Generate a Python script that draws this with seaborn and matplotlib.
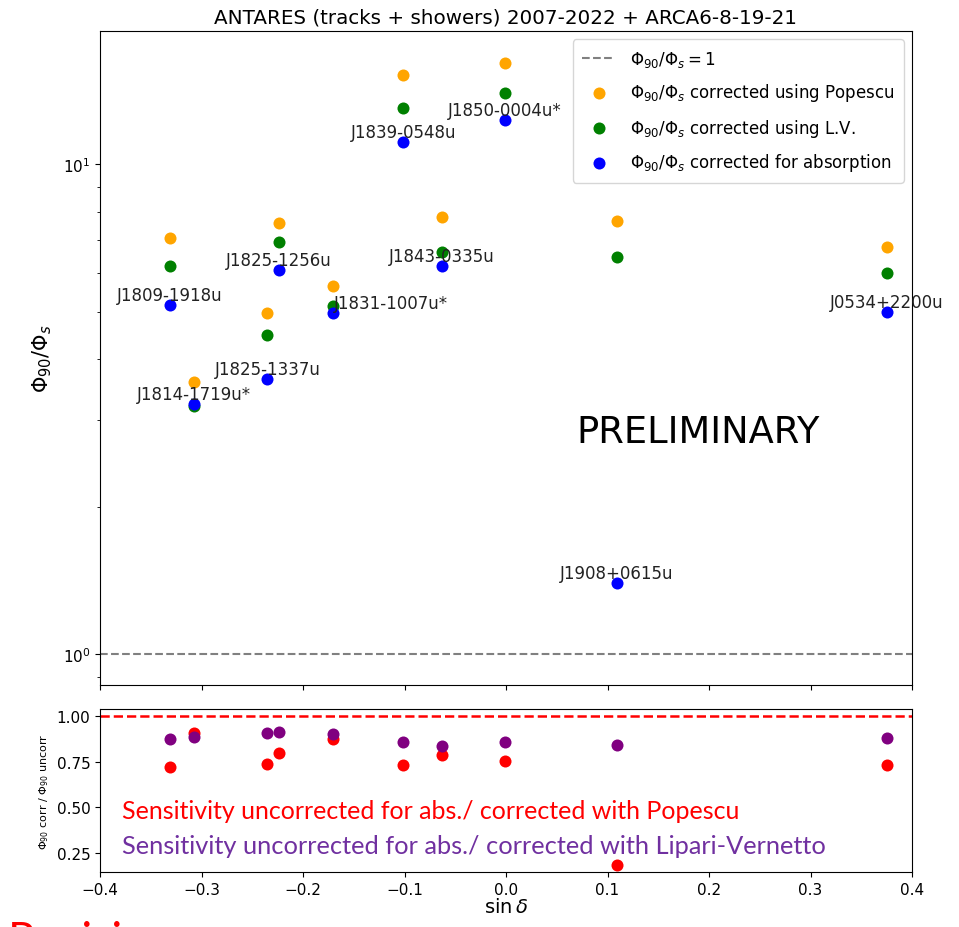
import matplotlib
matplotlib.use("Agg")
import matplotlib.pyplot as plt
import seaborn as sns
import numpy as np

# ---------------- data ----------------
sources = ["J1809-1918u", "J1814-1719u*", "J1825-1337u", "J1825-1256u", "J1831-1007u*",
           "J1839-0548u", "J1843-0335u", "J1850-0004u*", "J1908+0615u", "J0534+2200u"]
sin_dec = [-0.331, -0.307, -0.235, -0.224, -0.170, -0.101, -0.063, -0.001, 0.109, 0.375]

ratio_popescu = [7.06, 3.59, 4.97, 7.57, 5.64, 15.2, 7.82, 16.1, 7.64, 6.78]
ratio_lv = [6.20, 3.21, 4.48, 6.95, 5.14, 13.0, 6.63, 14.0, 6.45, 5.99]
ratio_absorption = [5.15, 3.24, 3.65, 6.07, 4.98, 11.1, 6.20, 12.3, 1.40, 4.99]

corr_popescu = [0.724, 0.907, 0.737, 0.798, 0.876, 0.734, 0.790, 0.757, 0.183, 0.734]
corr_lv = [0.876, 0.888, 0.907, 0.916, 0.901, 0.858, 0.839, 0.858, 0.843, 0.880]

label_align = ["center", "center", "center", "center", "left",
               "center", "center", "center", "center", "center"]

x_ticks = [-0.4, -0.3, -0.2, -0.1, 0.0, 0.1, 0.2, 0.3, 0.4]
bottom_yticks = [0.25, 0.50, 0.75, 1.00]

# ---------------- figure ----------------
W, H = 959, 928
fig = plt.figure(figsize=(W / 100, H / 100), dpi=100)
ax1 = fig.add_axes([100 / W, 1 - 686 / H, 812 / W, 654 / H])
ax2 = fig.add_axes([100 / W, 1 - 873 / H, 812 / W, 163 / H], sharex=ax1)

ms = 75
ax1.axhline(1.0, color="gray", ls="--", lw=1.5, label=r"$\Phi_{90}/\Phi_s = 1$")
sns.scatterplot(x=sin_dec, y=ratio_popescu, color="orange", s=ms, linewidth=0,
                label=r"$\Phi_{90}/\Phi_s$ corrected using Popescu", ax=ax1)
sns.scatterplot(x=sin_dec, y=ratio_lv, color="green", s=ms, linewidth=0,
                label=r"$\Phi_{90}/\Phi_s$ corrected using L.V.", ax=ax1)
sns.scatterplot(x=sin_dec, y=ratio_absorption, color="blue", s=ms, linewidth=0,
                label=r"$\Phi_{90}/\Phi_s$ corrected for absorption", ax=ax1)

for name, xv, yv, ha in zip(sources, sin_dec, ratio_absorption, label_align):
    ax1.annotate(name, (xv, yv), xytext=(0, 10), textcoords="offset pixels",
                 ha=ha, va="center", fontsize=12, color="#222222")

ax1.set_yscale("log")
ax1.set_ylim(0.865, 18.7)
ax1.set_xlim(-0.4, 0.4)
ax1.set_xticks(x_ticks)
ax1.tick_params(labelbottom=False, labelsize=11)
ax1.set_ylabel(r"$\Phi_{90}/\Phi_s$", fontsize=15, labelpad=6)
ax1.set_title("ANTARES (tracks + showers) 2007-2022 + ARCA6-8-19-21", fontsize=14.3)
ax1.text(0.736, 0.387, "PRELIMINARY", transform=ax1.transAxes, ha="center",
         va="center", fontsize=26.5, color="black")
ax1.legend(loc="upper right", fontsize=12, labelspacing=0.78, borderpad=0.55,
           handletextpad=0.9, borderaxespad=0.5, framealpha=0.8)

# ---------------- bottom panel ----------------
ax2.axhline(1.0, color="red", ls="--", lw=1.8)
sns.scatterplot(x=sin_dec, y=corr_popescu, color="red", s=ms, linewidth=0, ax=ax2)
sns.scatterplot(x=sin_dec, y=corr_lv, color="purple", s=ms, linewidth=0, ax=ax2)
ax2.set_ylim(0.146, 1.04)
ax2.set_yticks(bottom_yticks)
ax2.set_yticklabels([f"{v:.2f}" for v in bottom_yticks])
ax2.set_xticks(x_ticks)
ax2.tick_params(labelsize=11)
ax2.set_xlim(-0.4, 0.4)
ax2.set_xlabel(r"$\sin\delta$", fontsize=14, labelpad=0)
ax2.set_ylabel(r"$\Phi_{90}$ corr / $\Phi_{90}$ uncorr", fontsize=8)

ax2.text(-0.378, 0.482, "Sensitivity uncorrected for abs./ corrected with Popescu",
         color="red", fontsize=18, family="Lato", va="center", ha="left")
ax2.text(-0.378, 0.291, "Sensitivity uncorrected for abs./ corrected with Lipari-Vernetto",
         color="#7030A0", fontsize=18.3, family="Lato", va="center", ha="left")

fig.text(8 / W, 1 - 921 / H, "Revision", color="red", fontsize=32,
         family="Lato", ha="left", va="top")

fig.savefig("out.png", dpi=100)
